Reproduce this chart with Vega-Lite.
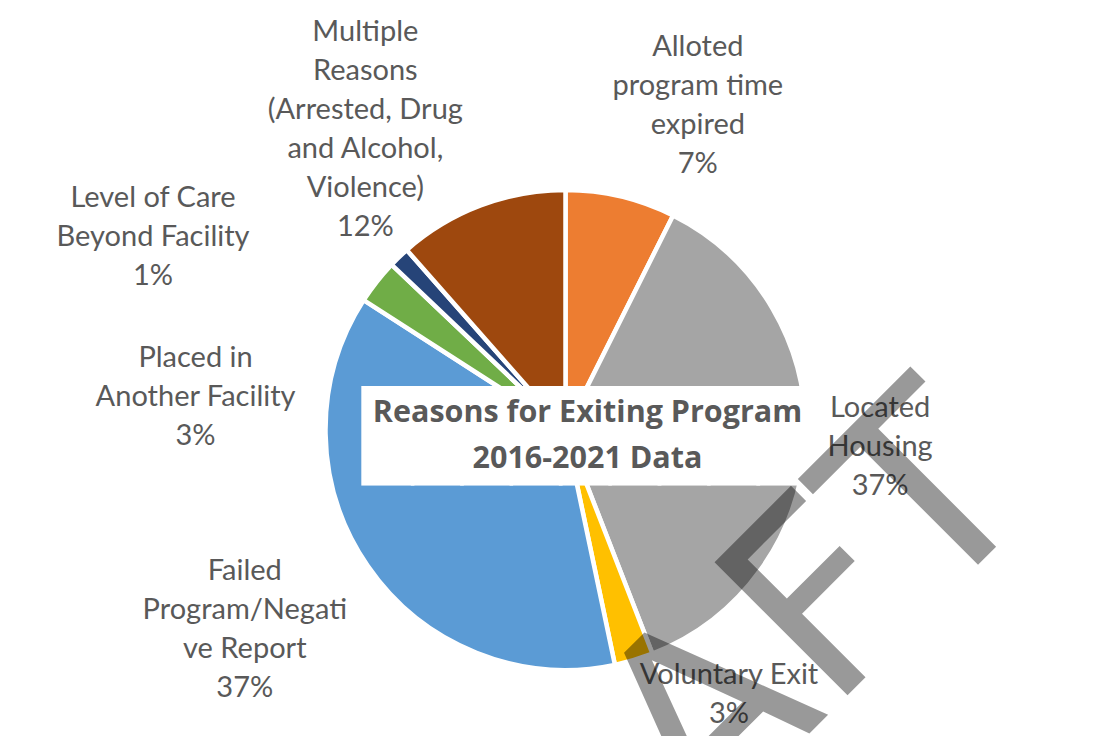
{
  "$schema": "https://vega.github.io/schema/vega-lite/v6.json",
  "width": 1095,
  "height": 612,
  "autosize": {"type": "none"},
  "padding": {"left": 18, "top": 124, "right": 0, "bottom": 0},
  "background": "white",
  "config": {"view": {"stroke": null}},
  "layer": [
    {
      "data": {"values": [
        {"reason": "Alloted program time expired", "pct": 7.4, "label": "Alloted\nprogram time\nexpired\n7%"},
        {"reason": "Located Housing", "pct": 36.7, "label": "Located\nHousing\n37%"},
        {"reason": "Voluntary Exit", "pct": 2.6, "label": "Voluntary Exit\n3%"},
        {"reason": "Failed Program/Negative Report", "pct": 37.4, "label": "Failed\nProgram/Negati\nve Report\n37%"},
        {"reason": "Placed in Another Facility", "pct": 3.0, "label": "Placed in\nAnother Facility\n3%"},
        {"reason": "Level of Care Beyond Facility", "pct": 1.4, "label": "Level of Care\nBeyond Facility\n1%"},
        {"reason": "Multiple Reasons (Arrested, Drug and Alcohol, Violence)", "pct": 11.5, "label": "Multiple\nReasons\n(Arrested, Drug\nand Alcohol,\nViolence)\n12%"}
      ]},
      "transform": [{"window": [{"op": "row_number", "as": "idx"}]}],
      "encoding": {
        "theta": {"field": "pct", "type": "quantitative", "stack": true},
        "order": {"field": "idx", "type": "quantitative"},
        "detail": {"field": "reason", "type": "nominal"}
      },
      "layer": [
        {
          "mark": {"type": "arc", "outerRadius": 240, "stroke": "white", "strokeWidth": 4.5},
          "encoding": {
            "color": {
              "field": "reason", "type": "nominal", "legend": null,
              "scale": {
                "domain": ["Alloted program time expired", "Located Housing", "Voluntary Exit", "Failed Program/Negative Report", "Placed in Another Facility", "Level of Care Beyond Facility", "Multiple Reasons (Arrested, Drug and Alcohol, Violence)"],
                "range": ["#ED7D31", "#A5A5A5", "#FFC000", "#5B9BD5", "#70AD47", "#264478", "#9E480E"]
              }
            }
          }
        },
        {
          "mark": {"type": "text", "radius": 340, "dx": 54, "dy": -52.5, "font": "Lato", "fontSize": 29, "lineHeight": 39, "color": "#595959", "align": "center", "baseline": "middle", "lineBreak": "\n"},
          "encoding": {"text": {"condition": {"test": "datum.reason === 'Alloted program time expired'", "field": "label"}, "value": ""}}
        },
        {
          "mark": {"type": "text", "radius": 315, "dx": 0, "dy": -37, "font": "Lato", "fontSize": 29, "lineHeight": 39, "color": "#595959", "align": "center", "baseline": "middle", "lineBreak": "\n"},
          "encoding": {"text": {"condition": {"test": "datum.reason === 'Located Housing'", "field": "label"}, "value": ""}}
        },
        {
          "mark": {"type": "text", "radius": 300, "dx": 78, "dy": -42.5, "font": "Lato", "fontSize": 29, "lineHeight": 39, "color": "#595959", "align": "center", "baseline": "middle", "lineBreak": "\n"},
          "encoding": {"text": {"condition": {"test": "datum.reason === 'Voluntary Exit'", "field": "label"}, "value": ""}}
        },
        {
          "mark": {"type": "text", "radius": 370, "dx": -16, "dy": -68.5, "font": "Lato", "fontSize": 29, "lineHeight": 39, "color": "#595959", "align": "center", "baseline": "middle", "lineBreak": "\n"},
          "encoding": {"text": {"condition": {"test": "datum.reason === 'Failed Program/Negative Report'", "field": "label"}, "value": ""}}
        },
        {
          "mark": {"type": "text", "radius": 370, "dx": -79, "dy": 157, "font": "Lato", "fontSize": 29, "lineHeight": 39, "color": "#595959", "align": "center", "baseline": "middle", "lineBreak": "\n"},
          "encoding": {"text": {"condition": {"test": "datum.reason === 'Placed in Another Facility'", "field": "label"}, "value": ""}}
        },
        {
          "mark": {"type": "text", "radius": 400, "dx": -135, "dy": 56, "font": "Lato", "fontSize": 29, "lineHeight": 39, "color": "#595959", "align": "center", "baseline": "middle", "lineBreak": "\n"},
          "encoding": {"text": {"condition": {"test": "datum.reason === 'Level of Care Beyond Facility'", "field": "label"}, "value": ""}}
        },
        {
          "mark": {"type": "text", "radius": 340, "dx": -80, "dy": -79.5, "font": "Lato", "fontSize": 29, "lineHeight": 39, "color": "#595959", "align": "center", "baseline": "middle", "lineBreak": "\n"},
          "encoding": {"text": {"condition": {"test": "datum.reason === 'Multiple Reasons (Arrested, Drug and Alcohol, Violence)'", "field": "label"}, "value": ""}}
        }
      ]
    },
    {
      "data": {"values": [{"box": "█████████"}]},
      "mark": {"type": "text", "font": "DejaVu Sans Mono", "fontSize": 82, "dx": 20, "dy": 9, "align": "center", "baseline": "middle", "fill": "white", "stroke": "white", "strokeWidth": 2},
      "encoding": {"text": {"field": "box", "type": "nominal"}}
    },
    {
      "data": {"values": [{"title": "Reasons for Exiting Program\n2016-2021 Data"}]},
      "mark": {"type": "text", "font": "Open Sans", "fontWeight": "bold", "fontSize": 30.5, "lineHeight": 46, "dx": 22, "dy": -17, "align": "center", "baseline": "middle", "lineBreak": "\n", "fill": "#595959"},
      "encoding": {"text": {"field": "title", "type": "nominal"}}
    },
    {
      "data": {"values": [{"mark": "DRAFT"}]},
      "mark": {"type": "text", "font": "DejaVu Sans", "fontSize": 258, "angle": 315, "align": "right", "baseline": "alphabetic", "dx": 288, "dy": 387, "fill": "#000000", "fillOpacity": 0.4},
      "encoding": {"text": {"field": "mark", "type": "nominal"}}
    }
  ]
}
